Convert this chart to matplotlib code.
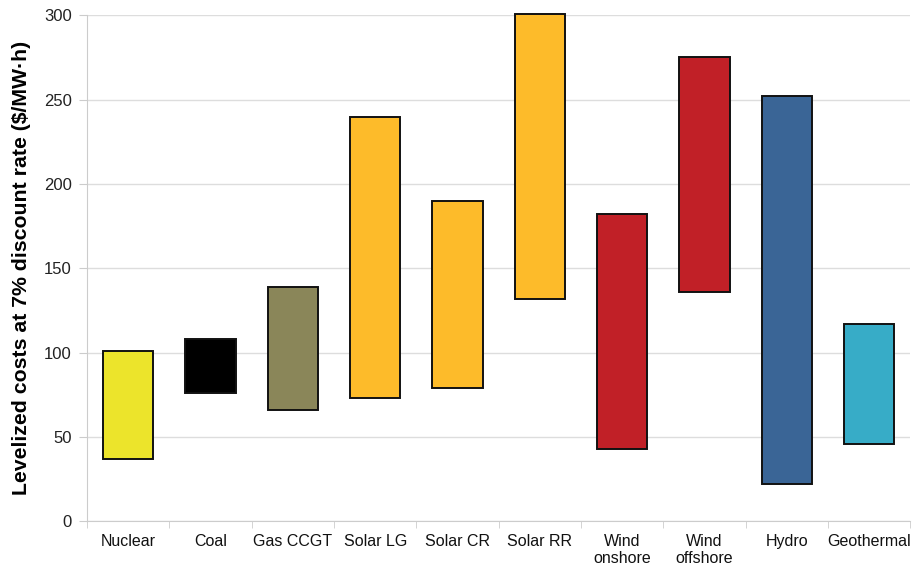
import matplotlib
matplotlib.use("Agg")
import matplotlib.pyplot as plt
import numpy as np

plt.rcParams['font.family'] = ['Liberation Sans', 'DejaVu Sans']

# levelized cost ranges, $/MWh at 7% discount rate
techs = ["Nuclear", "Coal", "Gas CCGT", "Solar LG", "Solar CR", "Solar RR",
         "Wind\nonshore", "Wind\noffshore", "Hydro", "Geothermal"]
low = [37, 76, 66, 73, 79, 132, 43, 136, 22, 46]
high = [101, 108, 139, 240, 190, 301, 182, 275, 252, 117]
colors = ["#ECE42B", "#000000", "#8A8659", "#FDBB2A", "#FDBB2A", "#FDBB2A",
          "#C12027", "#C12027", "#3A6596", "#37ACC7"]

fig = plt.figure(figsize=(9.19, 5.65), dpi=100)
ax = fig.add_axes([0.0947, 0.077, 0.896, 0.896])

x = np.arange(len(techs))
heights = np.array(high) - np.array(low)
ax.bar(x, heights, bottom=low, width=0.61, color=colors,
       edgecolor="#111111", linewidth=1.4, zorder=3, clip_on=False)

ax.set_xlim(-0.5, len(techs) - 0.5)
ax.set_ylim(0, 300)
ax.set_yticks(range(0, 301, 50))
ax.yaxis.grid(True, color="#DDDDDD", linewidth=1.0, zorder=0)

ax.set_xticks(x)
ax.set_xticklabels(techs, fontsize=11.5, color="#111111", linespacing=1.15)
ax.set_xticks(np.arange(-0.5, len(techs), 1), minor=True)
ax.tick_params(axis="x", which="major", length=0, pad=9)
ax.tick_params(axis="x", which="minor", length=5, color="#CCCCCC")
ax.tick_params(axis="y", length=6, color="#CCCCCC", labelsize=12,
               labelcolor="#222222", pad=5)

for s in ["top", "right"]:
    ax.spines[s].set_visible(False)
for s in ["left", "bottom"]:
    ax.spines[s].set_color("#CCCCCC")

ax.set_ylabel("Levelized costs at 7% discount rate ($/MW·h)",
              fontsize=15.3, fontweight="bold", labelpad=9)

fig.savefig("out.png", dpi=100)
